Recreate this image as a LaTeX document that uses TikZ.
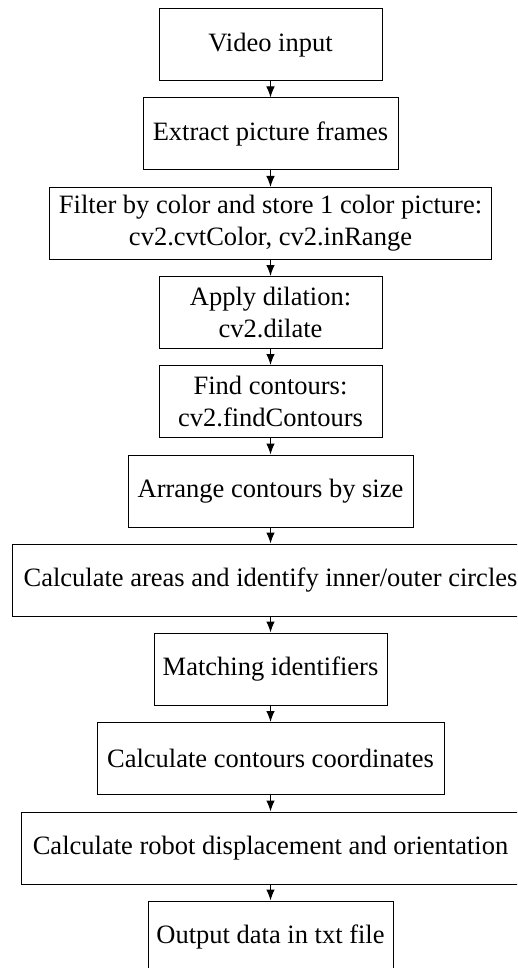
\documentclass[tikz,border=0pt]{standalone}
\usepackage{fontspec}
\setmainfont{Liberation Serif}
\usetikzlibrary{arrows.meta}
\begin{document}
\begin{tikzpicture}[x=1pt,y=1pt,
  box/.style={draw, line width=1pt, minimum height=72pt, inner sep=0pt, align=center,
    font=\fontsize{26.5}{31.8}\selectfont},
  arr/.style={line width=1pt, -{Latex[length=11pt,width=8.5pt]}}]
\useasboundingbox (0,0) rectangle (517,-968);
\clip (0,0) rectangle (517,-968);
\node[box, minimum width=223pt] (b1) at (270.5,-45) {Video input};
\node[box, minimum width=255pt] (b2) at (270.5,-134) {Extract picture frames};
\node[box, minimum width=442pt] (b3) at (270.5,-223.5) {Filter by color and store 1 color picture:\\cv2.cvtColor, cv2.inRange};
\node[box, minimum width=223pt] (b4) at (270.5,-312.5) {Apply dilation:\\cv2.dilate};
\node[box, minimum width=223pt] (b5) at (270.5,-401.5) {Find contours:\\cv2.findContours};
\node[box, minimum width=285pt] (b6) at (270.5,-491) {Arrange contours by size};
\node[box, minimum width=516pt] (b7) at (270.5,-580) {Calculate areas and identify inner/outer circles};
\node[box, minimum width=233pt] (b8) at (270.5,-669) {Matching identifiers};
\node[box, minimum width=347pt] (b9) at (270.5,-758.5) {Calculate contours coordinates};
\node[box, minimum width=498pt] (b10) at (270.5,-848) {Calculate robot displacement and orientation};
\node[box, minimum width=245pt] (b11) at (270.5,-937) {Output data in txt file};
\foreach \a/\b in {b1/b2,b2/b3,b3/b4,b4/b5,b5/b6,b6/b7,b7/b8,b8/b9,b9/b10,b10/b11}
  \draw[arr] (\a) -- (\b);
\end{tikzpicture}
\end{document}
